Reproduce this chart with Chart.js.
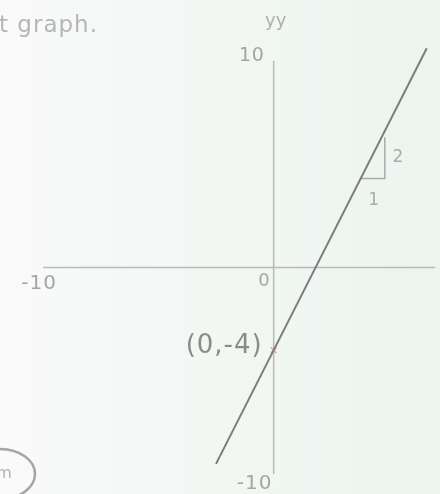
<!DOCTYPE html>
<html>
<head>
<meta charset="utf-8">
<script src="https://cdn.jsdelivr.net/npm/chart.js@4"></script>
<style>
html,body{margin:0;padding:0;background:#f4f7f5;}
#wrap{width:440px;height:494px;}
</style>
</head>
<body>
<div id="wrap"><canvas id="c" width="440" height="494"></canvas></div>
<script>
// ---- data ----
const lineX = [-2.75, 7.3];
const lineY = [-9.5, 10.6];
const slopeX = [4.15, 5.3, 5.3];
const slopeY = [4.3, 4.3, 6.3];
const pointX = [0];
const pointY = [-4];
const xAxisRange = [-11, 7.7];
const yAxisRange = [-10, 10];
const xTickValues = [-10, 0];
const xTickLabels = ['-10', '0'];
const yTickValues = [10, -10];
const yTickLabels = ['10', '-10'];
const pointLabel = '(0,-4)';
const slopeRunLabel = '1';
const slopeRiseLabel = '2';
const axisName = 'yy';
const headerText = 't graph.';

const FONT = '"DejaVu Sans", Verdana, sans-serif';

const bgPlugin = {
  id: 'bg',
  beforeDraw(chart) {
    const ctx = chart.ctx;
    const g = ctx.createLinearGradient(0, 0, 440, 0);
    g.addColorStop(0, '#f9faf9');
    g.addColorStop(1, '#ecf4ef');
    ctx.save();
    ctx.fillStyle = g;
    ctx.fillRect(0, 0, chart.width, chart.height);
    ctx.restore();
  }
};

function txt(ctx, s, x, y, size, color, align, base, spacing) {
  ctx.font = size + 'px ' + FONT;
  ctx.fillStyle = color;
  ctx.textAlign = align;
  ctx.textBaseline = base;
  ctx.letterSpacing = (spacing || 0) + 'px';
  ctx.fillText(s, x, y);
  ctx.letterSpacing = '0px';
}

const axesPlugin = {
  id: 'axes',
  beforeDatasetsDraw(chart) {
    const ctx = chart.ctx;
    const xs = chart.scales.x, ys = chart.scales.y;
    const x0 = xs.getPixelForValue(0), y0 = ys.getPixelForValue(0);
    ctx.save();
    ctx.strokeStyle = '#b8bab8';
    ctx.lineWidth = 1.5;
    ctx.beginPath();
    ctx.moveTo(xs.getPixelForValue(xAxisRange[0]), y0);
    ctx.lineTo(xs.getPixelForValue(xAxisRange[1]), y0);
    ctx.moveTo(x0, ys.getPixelForValue(yAxisRange[1]));
    ctx.lineTo(x0, ys.getPixelForValue(yAxisRange[0]));
    ctx.stroke();

    const tc = '#a4a6a4';
    // x tick labels
    xTickValues.forEach((v, i) => {
      if (v === 0) txt(ctx, xTickLabels[i], x0 - 4, y0 + 14, 18, tc, 'right', 'middle', 0);
      else txt(ctx, xTickLabels[i], xs.getPixelForValue(xAxisRange[0]) - 4, y0 + 16, 20, tc, 'center', 'middle', 1);
    });
    // y tick labels
    yTickValues.forEach((v, i) => {
      const py = ys.getPixelForValue(v);
      if (v > 0) txt(ctx, yTickLabels[i], x0 - 22, py - 5, 19, tc, 'center', 'middle', 0.5);
      else txt(ctx, yTickLabels[i], x0 - 19, py + 10, 20, tc, 'center', 'middle', 1);
    });
    // axis name
    txt(ctx, axisName, x0 + 2, 21, 18, '#aeb0ae', 'center', 'middle', 0);
    // header text
    txt(ctx, headerText, -1, 32, 23, '#b5b7b5', 'left', 'alphabetic', 1);
    // button outline bottom-left
    ctx.strokeStyle = '#a4a6a4';
    ctx.lineWidth = 2.5;
    ctx.beginPath();
    ctx.ellipse(0, 474, 35, 25, 0, 0, Math.PI * 2);
    ctx.stroke();
    txt(ctx, 'm', 4, 474, 16, '#b0b2b0', 'center', 'middle', 0);
    // slope labels
    txt(ctx, slopeRiseLabel, xs.getPixelForValue(slopeX[2]) + 13, ys.getPixelForValue((slopeY[1] + slopeY[2]) / 2), 17, '#aaacaa', 'center', 'middle', 0);
    txt(ctx, slopeRunLabel, xs.getPixelForValue((slopeX[0] + slopeX[1]) / 2) + 1, ys.getPixelForValue(slopeY[0]) + 22, 17, '#aaacaa', 'center', 'middle', 0);
    // point label
    txt(ctx, pointLabel, xs.getPixelForValue(pointX[0]) - 11, ys.getPixelForValue(pointY[0]) - 4, 26, '#8a8c8a', 'right', 'middle', 1);
    ctx.restore();
  }
};

new Chart(document.getElementById('c'), {
  type: 'scatter',
  data: {
    datasets: [
      {
        data: lineX.map((x, i) => ({ x, y: lineY[i] })),
        showLine: true,
        borderColor: '#7c7e7c',
        borderWidth: 2,
        pointRadius: 0,
        fill: false
      },
      {
        data: slopeX.map((x, i) => ({ x, y: slopeY[i] })),
        showLine: true,
        borderColor: '#a8aaa8',
        borderWidth: 1.5,
        pointRadius: 0,
        fill: false
      },
      {
        data: pointX.map((x, i) => ({ x, y: pointY[i] })),
        showLine: false,
        pointStyle: 'crossRot',
        pointRadius: 4,
        borderColor: '#e8a4b0',
        pointBorderColor: '#e8a4b0',
        borderWidth: 1.5
      }
    ]
  },
  options: {
    responsive: false,
    animation: false,
    layout: { padding: 0 },
    plugins: { legend: { display: false }, tooltip: { enabled: false } },
    scales: {
      x: { type: 'linear', display: false, min: -12.79, max: 7.67 },
      y: { type: 'linear', display: false, min: -10.69, max: 12.67 }
    }
  },
  plugins: [bgPlugin, axesPlugin]
});
</script>
</body>
</html>
